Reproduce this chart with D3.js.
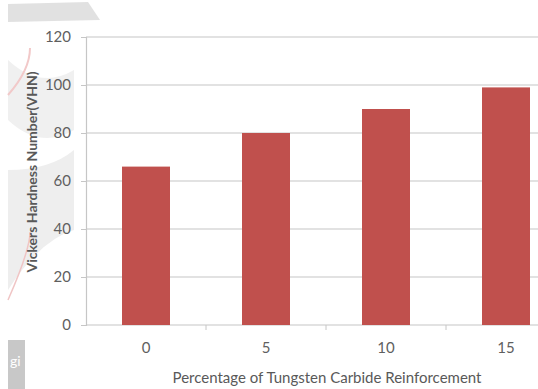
<!DOCTYPE html>
<html>
<head>
<meta charset="utf-8">
<script src="https://cdn.jsdelivr.net/npm/d3@7"></script>
<style>
  html, body { margin: 0; padding: 0; background: #fff; }
  svg { display: block; }
  text { font-family: Lato, "Open Sans", sans-serif; fill: #595959; }
</style>
</head>
<body>
<svg id="chart" width="538" height="389"></svg>
<script>
// Tungsten carbide content (%) and measured Vickers hardness
const categories = ["0", "5", "10", "15"];
const hardness = [66, 80, 90, 99];
const yTicks = [0, 20, 40, 60, 80, 100, 120];

const svg = d3.select("#chart");
const W = 538, H = 389;
const plot = { left: 86, right: 566, top: 37, bottom: 325 };

// faint background decoration on the left margin
const deco = svg.append("g");
deco.append("path")
  .attr("d", "M8,4 L88,2 L100,20 L8,22 Z")
  .attr("fill", "#d9d9d9").attr("opacity", 0.8);
deco.append("path")
  .attr("d", "M8,60 Q40,90 74,70 L74,130 Q40,150 8,120 Z")
  .attr("fill", "#e6e6e6").attr("opacity", 0.6);
deco.append("path")
  .attr("d", "M8,170 Q50,170 74,150 L74,230 Q40,240 8,290 Z")
  .attr("fill", "#e3e3e3").attr("opacity", 0.6);
deco.append("path")
  .attr("d", "M8,95 Q30,70 30,48")
  .attr("fill", "none").attr("stroke", "#f2c9c9").attr("stroke-width", 2);
deco.append("path")
  .attr("d", "M8,300 Q30,250 30,232")
  .attr("fill", "none").attr("stroke", "#f0c5c5").attr("stroke-width", 1.5);
deco.append("rect")
  .attr("x", 8).attr("y", 340).attr("width", 17).attr("height", 49)
  .attr("fill", "#c8c8c8");
deco.append("text")
  .attr("x", 10).attr("y", 366)
  .style("fill", "#ffffff").style("font-size", "14px")
  .text("gi");

const x = d3.scaleBand()
  .domain(categories)
  .range([plot.left, plot.right])
  .paddingInner(0.6)
  .paddingOuter(0.3);

const y = d3.scaleLinear()
  .domain([0, 120])
  .range([plot.bottom, plot.top]);

// horizontal gridlines
svg.append("g")
  .selectAll("line")
  .data(yTicks)
  .join("line")
  .attr("x1", plot.left).attr("x2", W)
  .attr("y1", d => y(d)).attr("y2", d => y(d))
  .attr("stroke", "#c6c6c6").attr("stroke-width", 1.2);

// bars
svg.append("g")
  .selectAll("rect")
  .data(hardness)
  .join("rect")
  .attr("x", (d, i) => x(categories[i]))
  .attr("width", x.bandwidth())
  .attr("y", d => y(d))
  .attr("height", d => y(0) - y(d))
  .attr("fill", "#c0504d");

// y axis
const yAxis = svg.append("g")
  .attr("transform", `translate(${plot.left},0)`)
  .call(d3.axisLeft(y).tickValues(yTicks).tickSize(5).tickPadding(10));
yAxis.select(".domain").attr("stroke", "#c6c6c6").attr("stroke-width", 1.2);
yAxis.selectAll(".tick line").attr("stroke", "#c6c6c6");
yAxis.selectAll(".tick text").style("font-size", "15px").style("fill", "#5f5f5f");

// x axis with ticks between categories
const xAxis = svg.append("g")
  .attr("transform", `translate(0,${plot.bottom})`)
  .call(d3.axisBottom(x).tickSize(0).tickPadding(17));
xAxis.select(".domain").remove();
xAxis.selectAll(".tick text").style("font-size", "15px").style("fill", "#5f5f5f");
svg.append("g")
  .selectAll("line")
  .data(categories.slice(1))
  .join("line")
  .attr("x1", d => x(d) - x.step() * x.paddingInner() / 2)
  .attr("x2", d => x(d) - x.step() * x.paddingInner() / 2)
  .attr("y1", plot.bottom).attr("y2", plot.bottom + 5)
  .attr("stroke", "#c6c6c6");

// axis titles
svg.append("text")
  .attr("x", 327).attr("y", 383)
  .attr("text-anchor", "middle")
  .style("font-size", "15px")
  .text("Percentage of Tungsten Carbide Reinforcement");

svg.append("text")
  .attr("transform", "translate(37,172) rotate(-90)")
  .attr("text-anchor", "middle")
  .style("font-size", "14px")
  .style("font-weight", "bold")
  .text("Vickers Hardness Number(VHN)");
</script>
</body>
</html>
